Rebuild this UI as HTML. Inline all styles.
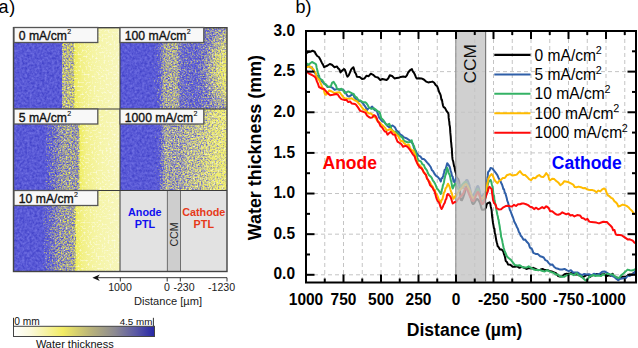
<!DOCTYPE html><html><head><meta charset="utf-8"><style>html,body{margin:0;padding:0;background:#fff;width:638px;height:348px;overflow:hidden}svg{display:block}text{font-family:"Liberation Sans",sans-serif}</style></head><body>
<svg width="638" height="348" viewBox="0 0 638 348">
<defs>
<linearGradient id="p0" gradientUnits="userSpaceOnUse" x1="0" y1="0" x2="638" y2="0"><stop offset="0.0219" stop-color="#ffffff"/><stop offset="0.0956" stop-color="#ffffff"/><stop offset="0.0972" stop-color="#797979"/><stop offset="0.1066" stop-color="#767676"/><stop offset="0.1165" stop-color="#747474"/><stop offset="0.1180" stop-color="#000000"/><stop offset="0.1881" stop-color="#000000"/></linearGradient>
<linearGradient id="p5" gradientUnits="userSpaceOnUse" x1="0" y1="0" x2="638" y2="0"><stop offset="0.0219" stop-color="#ffffff"/><stop offset="0.0627" stop-color="#ffffff"/><stop offset="0.0721" stop-color="#a4a4a4"/><stop offset="0.0815" stop-color="#9a9a9a"/><stop offset="0.0893" stop-color="#8f8f8f"/><stop offset="0.0972" stop-color="#848484"/><stop offset="0.1097" stop-color="#808080"/><stop offset="0.1144" stop-color="#838383"/><stop offset="0.1223" stop-color="#868686"/><stop offset="0.1251" stop-color="#626262"/><stop offset="0.1270" stop-color="#000000"/><stop offset="0.1881" stop-color="#000000"/></linearGradient>
<linearGradient id="p10" gradientUnits="userSpaceOnUse" x1="0" y1="0" x2="638" y2="0"><stop offset="0.0219" stop-color="#ffffff"/><stop offset="0.0596" stop-color="#ffffff"/><stop offset="0.0690" stop-color="#a4a4a4"/><stop offset="0.0784" stop-color="#9a9a9a"/><stop offset="0.0862" stop-color="#8f8f8f"/><stop offset="0.0940" stop-color="#858585"/><stop offset="0.1160" stop-color="#808080"/><stop offset="0.1191" stop-color="#626262"/><stop offset="0.1215" stop-color="#000000"/><stop offset="0.1881" stop-color="#000000"/></linearGradient>
<linearGradient id="p100" gradientUnits="userSpaceOnUse" x1="0" y1="0" x2="638" y2="0"><stop offset="0.1881" stop-color="#ffffff"/><stop offset="0.2429" stop-color="#afafaf"/><stop offset="0.2508" stop-color="#9c9c9c"/><stop offset="0.2571" stop-color="#808080"/><stop offset="0.2774" stop-color="#7c7c7c"/><stop offset="0.2837" stop-color="#979797"/><stop offset="0.3088" stop-color="#9b9b9b"/><stop offset="0.3229" stop-color="#8f8f8f"/><stop offset="0.3386" stop-color="#858585"/><stop offset="0.3558" stop-color="#808080"/></linearGradient>
<linearGradient id="p1000" gradientUnits="userSpaceOnUse" x1="0" y1="0" x2="638" y2="0"><stop offset="0.1881" stop-color="#ffffff"/><stop offset="0.2476" stop-color="#afafaf"/><stop offset="0.2539" stop-color="#919191"/><stop offset="0.2602" stop-color="#7c7c7c"/><stop offset="0.2665" stop-color="#818181"/><stop offset="0.2853" stop-color="#818181"/><stop offset="0.2915" stop-color="#787878"/><stop offset="0.3135" stop-color="#747474"/><stop offset="0.3292" stop-color="#6a6a6a"/><stop offset="0.3417" stop-color="#646464"/><stop offset="0.3558" stop-color="#5f5f5f"/></linearGradient>
<linearGradient id="y0" gradientUnits="userSpaceOnUse" x1="0" y1="0" x2="638" y2="0"><stop offset="0.0219" stop-color="#ecea50"/><stop offset="0.1160" stop-color="#ecea50"/><stop offset="0.1183" stop-color="#efed60"/><stop offset="0.1285" stop-color="#f2f088"/><stop offset="0.1489" stop-color="#f5f4a4"/><stop offset="0.1881" stop-color="#f7f6bc"/></linearGradient>
<linearGradient id="y5" gradientUnits="userSpaceOnUse" x1="0" y1="0" x2="638" y2="0"><stop offset="0.0219" stop-color="#ecea50"/><stop offset="0.1238" stop-color="#ecea50"/><stop offset="0.1254" stop-color="#efed60"/><stop offset="0.1348" stop-color="#f2f088"/><stop offset="0.1552" stop-color="#f5f4a4"/><stop offset="0.1881" stop-color="#f7f6bc"/></linearGradient>
<linearGradient id="y10" gradientUnits="userSpaceOnUse" x1="0" y1="0" x2="638" y2="0"><stop offset="0.0219" stop-color="#ecea50"/><stop offset="0.1183" stop-color="#ecea50"/><stop offset="0.1199" stop-color="#efed60"/><stop offset="0.1301" stop-color="#f2f088"/><stop offset="0.1505" stop-color="#f5f4a4"/><stop offset="0.1881" stop-color="#f7f6bc"/></linearGradient>
<linearGradient id="y100" gradientUnits="userSpaceOnUse" x1="0" y1="0" x2="638" y2="0"><stop offset="0.1881" stop-color="#ecea58"/><stop offset="0.3135" stop-color="#ecea60"/><stop offset="0.3558" stop-color="#eeec68"/></linearGradient>
<linearGradient id="y1000" gradientUnits="userSpaceOnUse" x1="0" y1="0" x2="638" y2="0"><stop offset="0.1881" stop-color="#ecea58"/><stop offset="0.3135" stop-color="#eeec70"/><stop offset="0.3558" stop-color="#f0ee70"/></linearGradient>
<radialGradient id="blob100" gradientUnits="userSpaceOnUse" cx="232" cy="70" r="34" gradientTransform="translate(232 70) scale(0.9 1.2) translate(-232 -70)"><stop offset="0" stop-color="#000" stop-opacity="0.4"/><stop offset="0.5" stop-color="#000" stop-opacity="0.18"/><stop offset="1" stop-color="#000" stop-opacity="0"/></radialGradient>
<filter id="spk" x="0" y="0" width="1" height="1" color-interpolation-filters="sRGB"><feTurbulence type="fractalNoise" baseFrequency="0.65" numOctaves="2" seed="5" result="noise"/><feColorMatrix in="noise" type="matrix" values="1 0 0 0 0  1 0 0 0 0  1 0 0 0 0  0 0 0 0 1" result="nz"/><feComposite in="SourceGraphic" in2="nz" operator="arithmetic" k1="0" k2="1" k3="0.5" k4="-0.25" result="sum"/><feColorMatrix in="sum" type="matrix" values="0 0 0 0 0  0 0 0 0 0  0 0 0 0 0  1 0 0 0 0"/><feComponentTransfer result="mask"><feFuncA type="linear" slope="4" intercept="-1.5"/></feComponentTransfer><feTurbulence type="fractalNoise" baseFrequency="0.4" numOctaves="2" seed="9" result="n2"/><feColorMatrix in="n2" type="matrix" values="0.28 0 0 0 0.21  0.28 0 0 0 0.21  0.16 0 0 0 0.76  0 0 0 0 1" result="col"/><feComposite in="col" in2="mask" operator="in"/><feGaussianBlur stdDeviation="0.4"/></filter>
<filter id="tex" x="0" y="0" width="1" height="1" color-interpolation-filters="sRGB"><feTurbulence type="fractalNoise" baseFrequency="0.5" numOctaves="2" seed="11"/><feColorMatrix type="matrix" values="0 0 0 0 1  0 0 0 0 1  0 0 0 0 0.97  2.2 0 0 0 -1.1"/></filter>
<linearGradient id="cbar" x1="0" y1="0" x2="1" y2="0"><stop offset="0" stop-color="#ffffff"/><stop offset="0.12" stop-color="#fbf9dc"/><stop offset="0.35" stop-color="#f2ec64"/><stop offset="0.55" stop-color="#b8b27a"/><stop offset="0.72" stop-color="#8c8a92"/><stop offset="0.87" stop-color="#5a58a4"/><stop offset="1" stop-color="#2626a6"/></linearGradient>
<clipPath id="plotclip"><rect x="306" y="31" width="330" height="251.5"/></clipPath>
<clipPath id="ccmclip"><rect x="455.8" y="31" width="30" height="251.5"/></clipPath>
<clipPath id="noccm"><path d="M306,31 H455.8 V282.5 H306 Z M485.8,31 H636 V282.5 H485.8 Z"/></clipPath>
</defs>
<text x="-1.5" y="12.8" font-size="18" fill="#000">a<tspan dx="0.8">)</tspan></text>
<rect x="14" y="27.5" width="106" height="81.5" fill="url(#y0)"/>
<rect x="14" y="27.5" width="106" height="81.5" fill="#fff" filter="url(#tex)"/>
<rect x="14" y="27.5" width="106" height="81.5" fill="url(#p0)" filter="url(#spk)"/>
<rect x="14" y="109" width="106" height="81.5" fill="url(#y5)"/>
<rect x="14" y="109" width="106" height="81.5" fill="#fff" filter="url(#tex)"/>
<rect x="14" y="109" width="106" height="81.5" fill="url(#p5)" filter="url(#spk)"/>
<rect x="14" y="190.5" width="106" height="81.0" fill="url(#y10)"/>
<rect x="14" y="190.5" width="106" height="81.0" fill="#fff" filter="url(#tex)"/>
<rect x="14" y="190.5" width="106" height="81.0" fill="url(#p10)" filter="url(#spk)"/>
<rect x="120" y="27.5" width="107" height="81.5" fill="url(#y100)"/>
<rect x="120" y="27.5" width="107" height="81.5" fill="#fff" filter="url(#tex)"/>
<g filter="url(#spk)"><rect x="120" y="27.5" width="107" height="81.5" fill="url(#p100)"/><rect x="120" y="27.5" width="107" height="81.5" fill="url(#blob100)"/></g>
<rect x="120" y="109" width="107" height="81.5" fill="url(#y1000)"/>
<rect x="120" y="109" width="107" height="81.5" fill="#fff" filter="url(#tex)"/>
<rect x="120" y="109" width="107" height="81.5" fill="url(#p1000)" filter="url(#spk)"/>
<rect x="120" y="190.5" width="107" height="81" fill="#e2e2e2"/>
<rect x="167.3" y="190.5" width="13.2" height="81" fill="#cecece" stroke="#555" stroke-width="0.8"/>
<g stroke="#3a3a3a" stroke-width="1">
<line x1="13.5" y1="109" x2="227" y2="109"/><line x1="13.5" y1="190.5" x2="227" y2="190.5"/>
<line x1="120" y1="27.5" x2="120" y2="271.5"/>
</g>
<rect x="13.5" y="27.7" width="213.5" height="243.8" fill="none" stroke="#444" stroke-width="1.4"/>
<rect x="14" y="27.5" width="83.8" height="15" fill="#f8f8f8" stroke="#555" stroke-width="1.3"/>
<text x="18.8" y="40.0" font-size="12.2" fill="#111" stroke="#111" stroke-width="0.35">0 mA/cm<tspan font-size="7" dy="-5.9" dx="0.3" stroke-width="0.15">2</tspan></text>
<rect x="14" y="109" width="83.8" height="15" fill="#f8f8f8" stroke="#555" stroke-width="1.3"/>
<text x="18.8" y="121.5" font-size="12.2" fill="#111" stroke="#111" stroke-width="0.35">5 mA/cm<tspan font-size="7" dy="-5.9" dx="0.3" stroke-width="0.15">2</tspan></text>
<rect x="14" y="190.5" width="83.8" height="15" fill="#f8f8f8" stroke="#555" stroke-width="1.3"/>
<text x="18.8" y="203.0" font-size="12.2" fill="#111" stroke="#111" stroke-width="0.35">10 mA/cm<tspan font-size="7" dy="-5.9" dx="0.3" stroke-width="0.15">2</tspan></text>
<rect x="120" y="27.5" width="83.8" height="15" fill="#f8f8f8" stroke="#555" stroke-width="1.3"/>
<text x="124.8" y="40.0" font-size="12.2" fill="#111" stroke="#111" stroke-width="0.35">100 mA/cm<tspan font-size="7" dy="-5.9" dx="0.3" stroke-width="0.15">2</tspan></text>
<rect x="120" y="109" width="83.8" height="15" fill="#f8f8f8" stroke="#555" stroke-width="1.3"/>
<text x="124.8" y="121.5" font-size="12.2" fill="#111" stroke="#111" stroke-width="0.35">1000 mA/cm<tspan font-size="7" dy="-5.9" dx="0.3" stroke-width="0.15">2</tspan></text>
<g font-size="10.8" font-weight="bold" text-anchor="middle">
<text x="144.8" y="216" fill="#1010f0">Anode</text><text x="145" y="227.7" fill="#1010f0">PTL</text>
<text x="203.8" y="216" fill="#e63a1a">Cathode</text><text x="203.8" y="227.7" fill="#e63a1a">PTL</text>
</g>
<text transform="translate(177.6,234.5) rotate(-90)" font-size="10.6" fill="#222" text-anchor="middle">CCM</text>
<line x1="97" y1="277.7" x2="227" y2="277.7" stroke="#333" stroke-width="1"/>
<path d="M92.4,277.7 L99.8,274.4 L97.6,277.7 L99.8,281 Z" fill="#111"/>
<line x1="120.3" y1="277.7" x2="120.3" y2="281.5" stroke="#333" stroke-width="1"/>
<line x1="167.2" y1="277.7" x2="167.2" y2="281.5" stroke="#333" stroke-width="1"/>
<line x1="180.3" y1="277.7" x2="180.3" y2="281.5" stroke="#333" stroke-width="1"/>
<line x1="227" y1="277.7" x2="227" y2="281.5" stroke="#333" stroke-width="1"/>
<g font-size="10.6" fill="#1a1a1a" text-anchor="middle">
<text x="120" y="291.4">1000</text><text x="167" y="291.4">0</text><text x="184" y="291.4">-230</text><text x="221.6" y="291.4">-1230</text>
<text x="168" y="305.3" font-size="11.1">Distance [µm]</text>
</g>
<rect x="13.5" y="326.3" width="141" height="10.2" fill="url(#cbar)" stroke="#444" stroke-width="1"/>
<line x1="13.5" y1="317.8" x2="13.5" y2="326.3" stroke="#333" stroke-width="1"/>
<line x1="153.4" y1="317.8" x2="153.4" y2="326.3" stroke="#333" stroke-width="1"/>
<text x="14.3" y="324.8" font-size="10.2" fill="#111">0 mm</text>
<text x="152.3" y="324.8" font-size="9.8" fill="#111" text-anchor="end">4.5 mm</text>
<text x="74.8" y="347.7" font-size="11" fill="#111" text-anchor="middle">Water thickness</text>
<text x="295.5" y="12.8" font-size="18" fill="#000">b)</text>
<g stroke="#c4c4c4" stroke-width="1" stroke-dasharray="4,3"><line x1="324.75" y1="32" x2="324.75" y2="281.5"/><line x1="343.50" y1="32" x2="343.50" y2="281.5"/><line x1="362.25" y1="32" x2="362.25" y2="281.5"/><line x1="381.00" y1="32" x2="381.00" y2="281.5"/><line x1="399.75" y1="32" x2="399.75" y2="281.5"/><line x1="418.50" y1="32" x2="418.50" y2="281.5"/><line x1="437.25" y1="32" x2="437.25" y2="281.5"/><line x1="456.00" y1="32" x2="456.00" y2="281.5"/><line x1="474.75" y1="32" x2="474.75" y2="281.5"/><line x1="493.50" y1="32" x2="493.50" y2="281.5"/><line x1="512.25" y1="32" x2="512.25" y2="281.5"/><line x1="531.00" y1="32" x2="531.00" y2="281.5"/><line x1="549.75" y1="32" x2="549.75" y2="281.5"/><line x1="568.50" y1="32" x2="568.50" y2="281.5"/><line x1="587.25" y1="32" x2="587.25" y2="281.5"/><line x1="606.00" y1="32" x2="606.00" y2="281.5"/><line x1="624.75" y1="32" x2="624.75" y2="281.5"/><line x1="307" y1="274.80" x2="635" y2="274.80"/><line x1="307" y1="234.17" x2="635" y2="234.17"/><line x1="307" y1="193.53" x2="635" y2="193.53"/><line x1="307" y1="152.90" x2="635" y2="152.90"/><line x1="307" y1="112.26" x2="635" y2="112.26"/><line x1="307" y1="71.63" x2="635" y2="71.63"/></g>
<g clip-path="url(#ccmclip)" fill="none" stroke-width="2.1" stroke-linejoin="round">
<path d="M452.7,160.0 L453.0,161.1 L453.3,162.7 L453.7,164.5 L454.2,166.4 L454.6,168.3 L455.0,170.0 L455.4,171.8 L455.8,173.6 L456.2,175.3 L456.6,176.8 L457.0,178.0 L458.0,178.8 L459.0,181.0 L459.2,182.1 L459.3,183.5 L459.5,185.2 L459.6,187.0 L459.8,189.0 L459.9,191.0 L460.1,193.0 L460.3,194.9 L460.4,196.6 L460.6,198.0 L460.8,199.2 L461.0,200.0 L461.9,200.3 L463.0,197.9 L464.0,195.0 L464.5,193.5 L465.0,191.6 L465.5,189.6 L466.0,187.8 L466.5,186.5 L467.0,186.0 L467.5,186.5 L468.0,187.7 L468.5,189.4 L469.0,191.3 L469.5,193.3 L470.0,195.0 L470.5,196.7 L471.0,198.5 L471.4,200.4 L471.9,202.0 L472.4,203.3 L473.0,204.0 L474.0,203.5 L475.0,201.8 L476.0,199.9 L477.0,199.0 L478.1,199.6 L479.1,201.1 L480.0,203.0 L480.5,204.6 L481.0,206.6 L481.5,208.4 L482.0,209.6 L483.6,209.8 L485.0,209.0 L486.0,207.5 L486.7,205.4 L487.3,203.4" stroke="#000000"/>
<path d="M454.3,182.2 L454.7,180.7 L455.3,178.7 L456.0,178.0 L456.5,178.7 L457.1,180.2 L457.7,182.0 L458.3,183.7 L459.0,185.0 L460.3,186.7 L461.7,188.0 L463.0,188.0 L463.7,186.9 L464.4,185.0 L465.1,182.9 L465.8,181.0 L466.4,180.0 L467.3,180.1 L468.1,181.6 L469.0,184.0 L469.4,185.2 L469.7,186.8 L470.1,188.6 L470.5,190.5 L470.9,192.3 L471.2,193.9 L471.6,195.2 L472.0,196.0 L473.0,195.9 L474.0,194.1 L475.0,192.0 L475.8,190.3 L476.5,188.1 L477.2,186.4 L478.0,186.0 L478.5,186.9 L479.0,188.6 L479.5,190.8 L480.0,193.0 L480.5,194.8 L481.0,196.0 L482.6,195.8 L484.0,194.0 L485.0,193.6 L486.0,191.0 L486.2,189.9 L486.4,188.5 L486.6,186.9 L486.8,185.1 L487.1,183.2 L487.3,181.2 L487.5,179.3 L487.7,177.4 L487.9,175.6 L488.0,174.1 L488.2,172.8 L488.3,171.8" stroke="#2f5fa8"/>
<path d="M455.0,183.7 L456.0,184.0 L456.6,185.4 L457.4,187.3 L458.2,189.1 L459.0,190.0 L460.0,189.1 L460.9,186.9 L462.0,185.0 L463.3,183.4 L464.7,182.1 L466.0,182.0 L466.7,182.9 L467.3,184.4 L467.8,186.2 L468.4,188.2 L469.0,190.0 L469.5,191.6 L470.0,193.4 L470.5,195.2 L471.0,196.9 L471.5,198.2 L472.0,199.0 L473.5,198.5 L475.0,196.0 L475.6,194.6 L476.2,192.6 L476.8,190.7 L477.4,189.3 L478.0,189.0 L478.4,189.7 L478.9,191.2 L479.3,193.0 L479.7,195.1 L480.1,197.1 L480.6,198.8 L481.0,200.0 L482.6,200.9 L484.0,200.0 L485.0,198.9 L486.0,196.0 L486.3,194.8 L486.5,193.3 L486.8,191.6 L487.1,189.8 L487.4,187.9 L487.7,186.1 L487.9,184.5 L488.1,183.2 L488.3,182.2" stroke="#34b265"/>
<path d="M455.0,196.4 L456.0,196.0 L456.9,194.6 L457.9,192.7 L459.0,191.0 L460.4,189.4 L462.0,188.0 L463.3,186.3 L464.6,184.6 L466.0,184.0 L466.8,184.7 L467.6,186.0 L468.5,187.7 L469.3,189.4 L470.0,191.0 L470.6,192.6 L471.2,194.3 L471.7,196.0 L472.3,197.3 L473.0,198.0 L474.1,197.6 L475.4,196.1 L476.8,194.6 L478.0,194.0 L479.1,194.9 L480.1,196.8 L481.0,198.5 L482.0,199.0 L482.8,198.3 L483.7,196.9 L484.5,195.1 L485.3,193.1 L486.0,191.0 L486.4,189.6 L486.7,187.9 L487.1,186.2 L487.4,184.3 L487.7,182.6 L487.9,181.0 L488.1,179.7 L488.3,178.7" stroke="#ffbb00"/>
<path d="M455.0,201.9 L456.0,202.0 L456.8,201.0 L457.9,199.5 L459.0,198.0 L460.3,196.7 L461.7,195.5 L463.0,194.0 L463.8,192.3 L464.5,190.1 L465.2,188.4 L466.0,188.0 L466.6,188.7 L467.3,189.9 L468.0,191.5 L468.7,193.4 L469.4,195.2 L470.1,196.8 L470.7,198.0 L472.2,200.7 L473.6,201.0 L474.3,200.0 L475.0,198.1 L475.7,195.9 L476.5,193.9 L477.3,192.4 L478.0,192.0 L478.5,192.6 L479.1,193.9 L479.6,195.7 L480.1,197.7 L480.6,199.8 L481.1,201.7 L481.6,203.1 L482.0,204.0 L483.1,203.7 L484.2,201.5 L485.0,199.5 L485.5,198.0 L486.0,196.0 L486.5,194.7 L487.1,193.0 L487.8,191.2 L488.4,189.4 L489.0,187.9 L489.4,186.8" stroke="#ff0a0a"/>
</g>
<rect x="455.6" y="32" width="30.2" height="249.5" fill="#c4c4c4" fill-opacity="0.8"/>
<line x1="455.8" y1="32" x2="455.8" y2="281.5" stroke="#8a8a8a" stroke-width="1"/>
<line x1="485.6" y1="32" x2="485.6" y2="281.5" stroke="#7a7a7a" stroke-width="1.2"/>
<g clip-path="url(#noccm)" fill="none" stroke-width="2" stroke-linejoin="round">
<path d="M306.0,53.4 L308.1,52.1 L310.3,51.7 L312.5,50.8 L314.7,51.7 L315.9,54.2 L317.2,56.0 L318.9,57.0 L320.7,60.3 L321.8,62.7 L323.0,64.6 L324.1,67.2 L327.6,65.5 L329.8,64.0 L331.9,64.7 L334.5,67.2 L337.0,66.4 L338.2,68.4 L339.3,69.2 L340.5,72.4 L342.2,70.5 L344.0,69.0 L344.9,69.8 L345.7,71.8 L346.5,74.6 L347.4,76.7 L348.7,75.4 L350.0,72.4 L351.1,69.7 L352.3,68.2 L353.4,67.2 L354.1,69.4 L354.8,72.2 L355.5,73.1 L356.2,74.5 L356.9,76.7 L359.7,76.9 L362.1,78.9 L364.5,78.4 L366.6,75.7 L368.7,76.2 L370.8,73.7 L373.1,74.8 L375.5,76.9 L377.9,77.5 L380.3,80.0 L382.4,79.0 L384.5,79.5 L386.6,80.0 L388.2,78.5 L389.8,75.3 L392.1,76.0 L394.5,78.4 L396.6,78.1 L398.7,77.8 L400.8,76.9 L403.2,76.6 L405.6,76.9 L406.9,75.4 L408.1,72.6 L409.4,71.0 L410.6,69.8 L411.9,69.0 L412.8,71.3 L413.8,72.6 L414.7,74.2 L415.7,76.7 L416.6,78.4 L419.0,78.3 L421.4,78.4 L423.8,79.5 L426.1,81.6 L428.2,82.4 L430.3,82.1 L432.4,81.6 L434.0,82.5 L435.6,84.9 L437.2,86.3 L438.0,88.3 L438.8,91.2 L439.5,92.8 L440.3,94.2 L440.8,95.8 L441.4,99.7 L441.9,99.6 L442.4,102.5 L443.0,105.5 L443.5,106.9 L445.1,108.1 L446.6,111.1 L448.2,113.2 L448.5,114.1 L448.7,117.9 L449.0,120.2 L449.3,121.9 L449.5,124.8 L449.8,125.9 L450.0,127.5 L450.2,130.6 L450.3,132.4 L450.5,134.5 L450.7,136.3 L450.9,139.4 L451.0,141.8 L451.2,142.6 L451.4,144.8 L451.6,147.4 L451.8,148.0 L452.0,151.8 L452.1,153.9 L452.3,156.9 L452.5,158.7 L452.7,160.0 L453.2,161.4 L453.6,163.7 L454.1,166.4 L454.5,166.8 L455.0,170.0 L455.5,171.9 L456.0,173.1 L456.5,175.0 L457.0,178.0 L459.0,181.0 L459.2,182.0 L459.4,185.9 L459.7,186.4 L459.9,188.8 L460.1,191.3 L460.3,194.6 L460.6,194.7 L460.8,197.8 L461.0,200.0 L462.5,197.6 L464.0,195.0 L464.8,193.7 L465.5,191.3 L466.2,189.2 L467.0,186.0 L467.8,187.7 L468.5,190.3 L469.2,192.4 L470.0,195.0 L470.8,198.2 L471.5,200.7 L472.2,200.8 L473.0,204.0 L474.3,201.5 L475.7,200.0 L477.0,199.0 L478.5,200.3 L480.0,203.0 L480.7,205.2 L481.3,207.6 L482.0,209.6 L485.0,209.0 L486.0,207.5 L486.6,204.8 L487.3,203.4 L489.6,202.3 L490.2,203.3 L490.8,206.7 L491.4,209.2 L491.7,211.2 L491.9,214.0 L492.2,217.3 L492.5,218.9 L492.7,220.7 L493.0,223.0 L493.5,225.6 L493.9,228.1 L494.4,228.7 L494.8,233.2 L495.3,234.5 L495.8,237.5 L496.2,240.1 L496.7,242.2 L497.1,243.4 L497.6,246.0 L498.8,247.4 L500.0,249.4 L501.7,249.5 L503.4,251.7 L504.0,254.3 L504.5,255.2 L505.1,257.5 L505.7,260.9 L506.9,261.9 L508.0,264.4 L510.3,264.7 L512.6,266.7 L514.9,266.7 L517.2,266.3 L519.5,267.8 L521.8,266.9 L524.1,267.7 L526.4,269.0 L528.7,268.0 L531.0,268.6 L533.3,267.8 L535.6,269.0 L537.9,270.2 L540.2,269.8 L542.5,268.9 L544.8,270.1 L547.1,270.0 L549.4,270.9 L551.7,271.5 L554.0,272.4 L556.0,273.2 L558.0,276.0 L560.1,276.4 L562.3,276.2 L564.5,274.3 L566.6,273.8 L568.8,273.9 L570.9,273.1 L573.1,273.3 L575.2,274.5 L577.4,274.6 L579.5,275.0 L581.7,277.0 L583.9,276.7 L586.0,275.4 L588.2,274.7 L590.4,276.7 L592.5,275.2 L594.6,275.1 L596.8,273.9 L599.0,274.8 L601.1,274.5 L604.0,274.0 L606.9,276.0 L608.8,275.3 L610.7,275.8 L612.6,273.8 L614.0,276.2 L615.5,277.2 L616.9,277.5 L618.3,279.5 L620.2,278.2 L622.2,276.8 L624.1,276.7 L626.0,276.7 L627.9,275.3 L629.8,274.5 L631.9,274.5 L633.9,272.7 L636.0,272.4" stroke="#000000"/>
<path d="M306.0,65.5 L308.0,65.3 L310.0,67.4 L312.0,67.2 L313.0,70.2 L314.1,71.6 L315.1,73.2 L316.2,75.0 L317.2,75.9 L318.9,78.5 L320.7,79.2 L322.4,81.9 L324.1,83.6 L325.9,84.9 L327.6,87.0 L329.9,86.7 L332.2,87.6 L334.5,89.7 L337.1,89.1 L339.7,89.7 L341.9,89.5 L344.0,90.5 L345.7,93.0 L347.4,95.8 L349.1,96.6 L351.2,95.2 L353.4,94.0 L354.2,97.1 L355.0,97.9 L356.7,100.2 L358.4,101.2 L360.2,100.8 L361.9,102.2 L363.2,103.4 L364.4,105.4 L365.7,107.3 L367.0,110.0 L368.7,108.1 L370.5,108.1 L372.2,106.6 L373.7,109.1 L375.1,110.4 L376.6,110.9 L377.5,112.8 L378.3,115.1 L379.1,117.5 L380.0,118.6 L382.3,121.5 L384.0,121.6 L385.7,123.8 L387.4,125.9 L389.2,127.2 L392.6,125.5 L394.9,127.2 L396.6,130.6 L398.4,131.8 L400.1,134.3 L401.8,135.3 L404.1,137.4 L406.4,138.2 L408.1,139.3 L409.9,140.5 L412.3,143.0 L413.1,144.1 L413.8,147.6 L414.6,148.8 L415.8,150.7 L416.9,153.4 L418.6,155.6 L420.3,156.3 L422.1,158.9 L423.8,159.1 L425.5,160.6 L427.2,162.6 L428.9,164.5 L430.7,167.0 L431.9,170.2 L433.0,171.0 L434.6,174.0 L436.1,175.8 L437.7,176.8 L439.2,178.6 L440.8,181.4 L441.6,178.3 L442.4,178.1 L443.2,175.7 L444.0,172.7 L444.6,169.9 L445.3,169.7 L445.9,168.2 L446.6,165.5 L447.2,163.2 L449.5,166.3 L450.1,168.3 L450.7,171.2 L451.3,172.5 L451.9,175.8 L452.7,176.7 L453.5,181.3 L454.3,182.2 L455.1,180.5 L456.0,178.0 L457.0,180.4 L458.0,183.8 L459.0,185.0 L461.0,186.3 L463.0,188.0 L463.9,187.0 L464.7,184.8 L465.5,181.2 L466.4,180.0 L467.7,181.4 L469.0,184.0 L469.5,185.5 L470.0,187.3 L470.5,190.2 L471.0,191.4 L471.5,193.8 L472.0,196.0 L473.5,193.0 L475.0,192.0 L476.0,191.1 L477.0,187.6 L478.0,186.0 L478.6,187.9 L479.2,190.2 L479.8,193.1 L480.4,193.8 L481.0,196.0 L484.0,194.0 L486.0,191.0 L486.3,190.0 L486.5,186.7 L486.8,184.7 L487.0,182.5 L487.3,179.1 L487.5,178.0 L487.8,175.2 L488.0,172.6 L488.3,171.8 L489.5,170.6 L490.6,167.9 L492.3,168.4 L494.0,170.7 L495.8,172.9 L497.5,175.3 L498.4,177.7 L499.3,179.1 L500.2,180.4 L501.1,182.7 L502.0,184.5 L502.7,186.6 L503.3,189.1 L504.0,189.3 L504.7,192.4 L505.4,193.5 L506.0,195.5 L506.7,198.0 L507.3,200.9 L508.0,202.4 L508.6,204.7 L509.2,207.3 L509.9,209.9 L510.5,211.0 L511.2,212.9 L512.0,215.3 L512.8,217.0 L513.5,219.0 L514.2,221.5 L515.0,223.0 L516.0,224.8 L516.9,227.0 L517.9,228.9 L518.9,232.0 L519.9,233.4 L520.8,235.8 L521.8,236.8 L523.5,239.7 L525.2,239.6 L527.0,242.1 L528.7,243.7 L529.6,246.7 L530.5,248.3 L531.5,248.3 L532.4,250.1 L533.3,252.9 L535.6,253.9 L537.9,254.1 L540.2,256.3 L541.9,256.8 L543.7,257.5 L545.4,260.2 L547.1,260.9 L548.8,263.1 L550.5,264.8 L552.3,264.4 L554.0,266.7 L556.0,268.3 L558.0,268.8 L560.1,269.6 L562.3,269.5 L564.5,268.9 L566.6,270.2 L568.8,271.2 L570.9,270.2 L573.0,272.5 L575.2,272.4 L577.4,272.4 L579.6,273.8 L582.0,275.2 L584.3,274.0 L586.7,274.5 L589.1,274.2 L591.5,275.3 L593.9,273.8 L596.8,274.7 L599.7,273.8 L602.2,271.8 L604.7,271.6 L607.2,272.9 L609.7,274.5 L611.6,275.7 L613.6,276.5 L615.5,278.1 L618.3,280.3 L620.2,278.8 L622.2,278.4 L624.1,278.1 L626.0,278.0 L627.9,275.5 L629.8,276.0 L632.0,274.7 L634.1,273.1 L636.0,270.0" stroke="#2f5fa8"/>
<path d="M306.0,63.0 L308.6,64.7 L310.3,63.2 L312.0,62.0 L315.5,63.8 L316.1,64.5 L316.6,67.4 L317.2,69.8 L317.9,72.5 L318.5,74.6 L319.1,75.8 L319.8,79.3 L322.4,80.2 L324.1,83.6 L325.9,84.5 L327.6,86.5 L329.3,87.0 L330.7,86.5 L332.2,82.6 L333.6,81.9 L334.7,83.6 L335.9,85.3 L337.0,88.8 L339.2,89.5 L341.4,88.8 L343.1,90.4 L344.8,93.1 L348.3,91.4 L351.7,93.1 L353.4,93.9 L355.2,96.6 L356.9,97.7 L358.5,100.3 L360.2,100.5 L362.8,102.2 L365.3,102.2 L366.5,103.3 L367.6,104.8 L368.8,107.4 L371.4,108.9 L374.0,108.3 L375.7,109.6 L377.4,111.1 L379.1,111.7 L379.8,112.7 L380.4,114.7 L381.1,118.0 L383.4,120.3 L385.1,123.1 L386.9,125.0 L389.2,123.8 L390.0,125.5 L390.7,126.5 L391.5,129.5 L393.8,131.8 L396.1,131.8 L397.6,133.7 L399.2,135.7 L400.7,136.4 L402.4,137.6 L404.1,141.0 L407.6,142.2 L410.0,141.9 L411.7,140.2 L412.5,143.7 L413.4,145.3 L414.2,146.5 L414.9,150.8 L415.7,152.2 L416.3,154.1 L416.9,155.8 L417.4,158.4 L418.0,160.3 L420.9,161.4 L422.4,164.3 L423.8,164.9 L425.0,168.0 L426.0,169.1 L427.0,170.5 L428.0,173.3 L429.0,175.0 L430.3,176.2 L431.6,177.7 L432.9,180.6 L433.9,181.7 L434.9,183.4 L435.9,185.7 L436.9,188.5 L438.2,189.8 L439.5,191.7 L440.8,194.0 L441.3,192.7 L441.9,189.5 L442.4,188.1 L442.9,185.3 L443.5,183.8 L444.0,182.2 L444.5,178.9 L444.9,177.5 L445.4,174.8 L445.8,174.6 L446.3,172.1 L446.7,169.1 L447.2,167.9 L448.0,170.2 L448.8,173.8 L449.5,174.0 L450.3,177.4 L450.8,180.4 L451.3,181.7 L451.7,184.0 L452.2,187.1 L452.7,188.5 L453.9,185.8 L455.0,183.7 L456.0,184.0 L457.0,186.0 L458.0,188.5 L459.0,190.0 L460.5,188.8 L462.0,185.0 L464.0,183.1 L466.0,182.0 L466.8,184.9 L467.5,186.5 L468.2,188.4 L469.0,190.0 L469.8,192.0 L470.5,194.1 L471.2,195.6 L472.0,199.0 L473.5,196.5 L475.0,196.0 L476.0,192.6 L477.0,192.0 L478.0,189.0 L478.6,190.6 L479.2,192.5 L479.8,194.5 L480.4,198.7 L481.0,200.0 L484.0,200.0 L485.0,199.0 L486.0,196.0 L486.4,194.1 L486.8,190.8 L487.1,188.4 L487.5,186.3 L487.9,184.4 L488.3,182.2 L490.6,179.9 L491.2,181.3 L491.8,184.3 L492.3,186.1 L492.9,189.0 L493.2,192.2 L493.5,194.2 L493.8,195.1 L494.1,196.3 L494.4,200.2 L494.7,200.5 L495.0,203.0 L495.4,204.6 L495.8,205.7 L496.2,208.7 L496.6,210.9 L497.0,213.0 L497.4,215.0 L497.8,216.2 L498.2,219.0 L498.6,219.7 L499.0,223.0 L499.4,224.7 L499.7,226.5 L500.1,229.6 L500.4,231.0 L500.8,233.3 L501.1,236.8 L501.6,238.3 L502.1,240.0 L502.6,242.9 L503.0,244.8 L503.5,247.3 L504.0,249.0 L504.5,250.6 L505.7,253.5 L506.8,256.2 L508.0,257.5 L509.5,258.7 L511.1,260.1 L512.6,262.1 L514.9,265.1 L517.2,265.5 L519.5,265.2 L521.8,266.7 L524.1,267.6 L526.4,267.6 L528.7,266.3 L531.0,267.8 L533.3,269.2 L535.6,270.0 L537.9,269.9 L540.2,270.1 L542.5,271.0 L544.8,271.5 L547.1,270.1 L549.4,271.3 L551.5,272.2 L553.7,272.9 L555.9,274.6 L558.0,274.5 L560.1,276.4 L562.3,276.7 L564.5,276.8 L566.6,275.2 L568.8,274.7 L570.9,273.8 L573.8,275.2 L576.7,273.1 L578.9,275.6 L581.0,276.0 L582.9,278.1 L584.8,279.8 L586.7,281.0 L588.1,278.6 L589.6,276.4 L591.0,276.0 L593.2,275.0 L595.4,276.0 L598.2,275.6 L601.1,276.0 L603.0,274.2 L605.0,275.4 L606.9,273.8 L609.8,274.3 L612.6,274.5 L614.5,276.0 L616.4,277.2 L618.3,278.1 L619.8,277.1 L621.2,275.2 L623.4,273.4 L625.5,271.6 L627.6,269.6 L629.8,270.2 L631.9,270.5 L633.9,269.9 L636.0,268.8" stroke="#34b265"/>
<path d="M306.0,67.2 L308.1,66.8 L310.3,66.4 L312.1,68.2 L313.8,69.8 L314.6,72.2 L315.5,72.6 L316.4,76.3 L317.2,77.6 L318.3,78.9 L319.4,80.3 L320.5,82.8 L321.6,85.3 L322.5,87.8 L323.3,88.3 L324.2,91.6 L325.0,94.1 L325.9,94.8 L327.6,92.6 L329.3,90.5 L331.9,91.5 L334.5,93.1 L337.1,92.6 L339.7,92.2 L341.4,94.7 L343.1,97.0 L344.8,98.3 L347.1,98.6 L349.4,98.7 L351.7,98.3 L355.0,100.5 L356.7,101.1 L358.4,103.0 L360.2,105.0 L361.9,107.4 L363.6,109.5 L365.4,109.9 L367.1,112.1 L368.8,113.4 L370.5,113.3 L372.3,114.6 L374.0,116.9 L375.5,117.7 L377.0,120.2 L378.5,121.7 L380.0,122.6 L381.7,124.8 L383.4,126.1 L385.1,127.9 L386.9,130.7 L390.3,129.0 L391.8,130.4 L393.4,131.6 L394.9,133.0 L396.4,134.8 L398.0,135.8 L399.5,138.7 L401.0,141.3 L402.6,141.0 L404.1,143.3 L406.4,145.1 L408.7,144.5 L410.0,147.6 L411.5,150.7 L413.1,150.2 L414.6,153.4 L415.3,155.4 L416.0,158.4 L416.6,160.8 L417.3,161.5 L418.0,163.7 L419.5,165.0 L421.1,166.8 L422.6,169.5 L423.8,172.6 L425.0,173.4 L426.1,175.0 L427.1,178.4 L428.2,180.6 L429.8,181.8 L431.3,184.9 L432.9,186.9 L433.9,190.0 L434.8,189.7 L435.8,193.4 L436.7,194.5 L437.7,196.4 L438.7,199.5 L439.8,201.1 L440.8,202.7 L441.6,199.8 L442.4,199.3 L443.2,196.0 L444.0,192.6 L444.8,191.6 L445.6,188.3 L446.4,187.6 L447.2,185.5 L448.0,183.7 L448.8,185.2 L449.6,186.7 L450.3,189.2 L451.1,191.6 L451.9,193.5 L452.7,197.3 L453.5,198.8 L455.0,196.4 L456.0,196.0 L457.5,192.2 L459.0,191.0 L460.5,190.2 L462.0,188.0 L464.0,186.9 L466.0,184.0 L467.0,184.8 L468.0,188.6 L469.0,189.8 L470.0,191.0 L471.0,194.4 L472.0,195.1 L473.0,198.0 L474.7,196.3 L476.3,195.1 L478.0,194.0 L479.3,197.0 L480.7,197.6 L482.0,199.0 L483.0,196.6 L484.0,194.8 L485.0,192.4 L486.0,191.0 L486.4,187.8 L486.8,185.9 L487.1,185.7 L487.5,182.2 L487.9,181.9 L488.3,178.7 L490.0,175.7 L491.7,174.1 L492.9,175.8 L494.0,178.7 L495.2,181.0 L497.5,183.3 L499.2,180.8 L500.9,179.9 L502.8,178.0 L504.8,178.0 L506.7,175.3 L510.0,174.1 L512.5,175.6 L515.0,175.1 L516.7,174.6 L518.3,172.8 L520.0,171.1 L521.7,173.5 L523.4,174.9 L525.1,175.1 L527.1,176.9 L529.1,179.1 L531.1,180.2 L533.1,177.8 L535.2,178.3 L537.2,176.2 L539.2,175.1 L541.2,176.8 L543.2,177.1 L544.7,175.5 L546.2,173.1 L547.2,174.3 L548.2,175.5 L549.2,179.5 L550.2,180.2 L552.2,178.7 L554.3,179.1 L555.8,180.6 L557.3,181.7 L558.8,183.1 L560.3,185.2 L562.3,183.8 L564.3,181.2 L568.0,182.0 L570.4,183.2 L573.2,184.6 L574.8,187.1 L576.4,187.2 L578.6,186.6 L580.9,187.2 L582.9,188.2 L584.8,187.9 L586.8,189.2 L588.7,189.7 L590.6,190.1 L592.5,190.1 L594.5,190.8 L596.4,192.3 L598.4,190.6 L600.3,191.4 L602.2,189.4 L604.2,188.4 L605.5,189.6 L606.8,193.4 L608.1,195.5 L609.4,196.2 L611.1,197.8 L612.8,198.7 L614.5,201.4 L615.8,202.3 L617.1,203.7 L618.4,206.5 L620.6,205.7 L622.7,204.6 L624.9,205.3 L626.6,205.9 L628.4,207.2 L630.1,209.1 L632.1,211.0 L634.0,213.6 L636.0,214.3" stroke="#ffbb00"/>
<path d="M306.0,69.8 L307.3,72.2 L308.6,73.3 L312.0,75.0 L313.8,76.1 L315.5,77.6 L316.2,79.3 L316.9,81.4 L317.6,82.9 L318.3,84.7 L319.0,87.0 L322.4,88.8 L324.1,89.1 L325.9,91.1 L327.6,93.1 L330.2,95.2 L332.8,94.8 L336.2,94.0 L337.9,94.7 L339.7,97.4 L341.4,99.1 L344.0,99.9 L346.6,100.0 L348.3,102.1 L350.0,101.5 L351.7,103.4 L355.0,104.0 L356.3,105.1 L357.6,106.8 L358.9,108.9 L360.2,110.9 L362.8,111.6 L365.3,112.6 L367.0,115.5 L368.8,117.0 L370.5,117.8 L372.2,117.5 L374.0,115.2 L375.3,115.9 L376.6,117.8 L377.8,121.5 L379.1,122.9 L380.5,126.1 L382.0,127.2 L383.4,129.5 L384.8,131.5 L386.1,131.7 L387.5,134.7 L389.2,133.0 L390.9,131.8 L392.9,134.4 L394.9,134.7 L395.8,137.4 L396.6,139.4 L397.5,141.6 L398.4,142.2 L399.9,143.1 L401.5,144.3 L403.0,146.8 L405.3,145.9 L407.6,146.8 L410.0,149.9 L411.5,152.1 L413.1,154.6 L414.6,156.3 L415.5,159.6 L416.3,161.2 L417.1,163.1 L418.0,164.9 L419.8,167.3 L421.5,168.3 L422.7,170.1 L423.8,172.2 L425.0,174.0 L426.0,174.9 L427.0,178.8 L428.0,179.5 L429.0,182.2 L430.2,185.3 L431.4,186.5 L432.5,187.6 L433.7,190.1 L434.5,191.3 L435.3,193.9 L436.1,197.1 L436.9,199.4 L437.7,201.1 L438.7,202.1 L439.6,203.9 L440.6,207.1 L441.6,209.0 L442.7,207.1 L443.7,204.5 L444.8,202.7 L445.6,199.8 L446.4,198.6 L447.1,194.9 L447.9,194.0 L450.3,196.4 L451.1,198.3 L451.9,201.0 L452.7,203.5 L455.0,201.9 L456.0,202.0 L457.5,201.2 L459.0,198.0 L461.0,196.4 L463.0,194.0 L464.0,193.0 L465.0,189.9 L466.0,188.0 L466.9,189.3 L467.9,191.3 L468.8,195.2 L469.8,196.5 L470.7,198.0 L472.1,199.0 L473.6,201.0 L474.5,198.0 L475.4,197.4 L476.2,196.1 L477.1,193.6 L478.0,192.0 L478.7,193.4 L479.3,196.4 L480.0,199.1 L480.7,199.3 L481.3,200.8 L482.0,204.0 L483.5,201.3 L485.0,199.5 L486.0,196.0 L486.9,193.5 L487.7,191.9 L488.5,188.3 L489.4,186.8 L491.7,189.1 L492.0,192.1 L492.2,194.1 L492.5,195.7 L492.7,197.1 L493.0,200.0 L494.1,203.2 L495.2,204.0 L495.9,205.5 L496.5,208.0 L498.8,209.4 L501.1,209.2 L503.4,207.3 L505.7,206.1 L508.0,205.7 L510.0,206.3 L512.0,206.5 L514.0,204.8 L516.0,206.0 L518.0,204.3 L520.0,204.3 L522.0,203.5 L524.1,203.6 L526.1,204.3 L528.1,205.1 L530.1,206.7 L532.1,207.3 L534.1,209.1 L536.2,207.7 L538.2,209.3 L540.2,208.3 L542.2,207.1 L544.2,208.3 L546.2,206.3 L547.5,207.0 L548.9,208.5 L550.2,211.3 L552.2,211.2 L554.3,213.1 L556.3,214.4 L558.3,214.7 L560.3,214.0 L562.3,212.3 L564.3,213.3 L566.4,214.3 L568.4,213.4 L570.4,215.5 L572.4,215.0 L574.4,216.4 L577.2,215.1 L580.0,215.4 L581.8,217.9 L583.5,218.2 L585.5,219.8 L587.4,218.9 L589.3,221.6 L591.3,222.1 L593.9,222.2 L596.4,222.6 L599.0,223.4 L601.2,222.5 L603.3,221.7 L605.5,222.1 L607.1,222.1 L608.8,224.1 L610.4,225.5 L612.0,227.2 L613.2,230.3 L614.5,230.1 L615.7,234.3 L616.9,235.0 L619.7,235.0 L621.6,235.2 L623.6,236.6 L625.5,237.9 L627.6,239.4 L629.8,239.3 L632.7,240.7 L634.4,242.7 L636.0,243.0" stroke="#ff0a0a"/>
</g>
<text transform="translate(476,63.7) rotate(-90)" font-size="17.4" fill="#111" text-anchor="middle">CCM</text>
<rect x="306" y="31" width="330" height="251.5" fill="none" stroke="#000" stroke-width="2"/>
<g stroke="#000" stroke-width="2"><line x1="306.00" y1="282.5" x2="306.00" y2="274.5"/><line x1="306.00" y1="31" x2="306.00" y2="39"/><line x1="324.75" y1="282.5" x2="324.75" y2="278.5"/><line x1="324.75" y1="31" x2="324.75" y2="35"/><line x1="343.50" y1="282.5" x2="343.50" y2="274.5"/><line x1="343.50" y1="31" x2="343.50" y2="39"/><line x1="362.25" y1="282.5" x2="362.25" y2="278.5"/><line x1="362.25" y1="31" x2="362.25" y2="35"/><line x1="381.00" y1="282.5" x2="381.00" y2="274.5"/><line x1="381.00" y1="31" x2="381.00" y2="39"/><line x1="399.75" y1="282.5" x2="399.75" y2="278.5"/><line x1="399.75" y1="31" x2="399.75" y2="35"/><line x1="418.50" y1="282.5" x2="418.50" y2="274.5"/><line x1="418.50" y1="31" x2="418.50" y2="39"/><line x1="437.25" y1="282.5" x2="437.25" y2="278.5"/><line x1="437.25" y1="31" x2="437.25" y2="35"/><line x1="456.00" y1="282.5" x2="456.00" y2="274.5"/><line x1="456.00" y1="31" x2="456.00" y2="39"/><line x1="474.75" y1="282.5" x2="474.75" y2="278.5"/><line x1="474.75" y1="31" x2="474.75" y2="35"/><line x1="493.50" y1="282.5" x2="493.50" y2="274.5"/><line x1="493.50" y1="31" x2="493.50" y2="39"/><line x1="512.25" y1="282.5" x2="512.25" y2="278.5"/><line x1="512.25" y1="31" x2="512.25" y2="35"/><line x1="531.00" y1="282.5" x2="531.00" y2="274.5"/><line x1="531.00" y1="31" x2="531.00" y2="39"/><line x1="549.75" y1="282.5" x2="549.75" y2="278.5"/><line x1="549.75" y1="31" x2="549.75" y2="35"/><line x1="568.50" y1="282.5" x2="568.50" y2="274.5"/><line x1="568.50" y1="31" x2="568.50" y2="39"/><line x1="587.25" y1="282.5" x2="587.25" y2="278.5"/><line x1="587.25" y1="31" x2="587.25" y2="35"/><line x1="606.00" y1="282.5" x2="606.00" y2="274.5"/><line x1="606.00" y1="31" x2="606.00" y2="39"/><line x1="624.75" y1="282.5" x2="624.75" y2="278.5"/><line x1="624.75" y1="31" x2="624.75" y2="35"/><line x1="306" y1="274.80" x2="314.5" y2="274.80"/><line x1="636" y1="274.80" x2="627.5" y2="274.80"/><line x1="306" y1="254.48" x2="310" y2="254.48"/><line x1="636" y1="254.48" x2="632" y2="254.48"/><line x1="306" y1="234.17" x2="314.5" y2="234.17"/><line x1="636" y1="234.17" x2="627.5" y2="234.17"/><line x1="306" y1="213.85" x2="310" y2="213.85"/><line x1="636" y1="213.85" x2="632" y2="213.85"/><line x1="306" y1="193.53" x2="314.5" y2="193.53"/><line x1="636" y1="193.53" x2="627.5" y2="193.53"/><line x1="306" y1="173.21" x2="310" y2="173.21"/><line x1="636" y1="173.21" x2="632" y2="173.21"/><line x1="306" y1="152.90" x2="314.5" y2="152.90"/><line x1="636" y1="152.90" x2="627.5" y2="152.90"/><line x1="306" y1="132.58" x2="310" y2="132.58"/><line x1="636" y1="132.58" x2="632" y2="132.58"/><line x1="306" y1="112.26" x2="314.5" y2="112.26"/><line x1="636" y1="112.26" x2="627.5" y2="112.26"/><line x1="306" y1="91.94" x2="310" y2="91.94"/><line x1="636" y1="91.94" x2="632" y2="91.94"/><line x1="306" y1="71.63" x2="314.5" y2="71.63"/><line x1="636" y1="71.63" x2="627.5" y2="71.63"/><line x1="306" y1="51.31" x2="310" y2="51.31"/><line x1="636" y1="51.31" x2="632" y2="51.31"/><line x1="306" y1="30.99" x2="314.5" y2="30.99"/><line x1="636" y1="30.99" x2="627.5" y2="30.99"/></g>
<text transform="translate(295,279.40) scale(1,1.1)" font-size="15.5" font-weight="bold" fill="#000" text-anchor="end">0.0</text>
<text transform="translate(295,238.77) scale(1,1.1)" font-size="15.5" font-weight="bold" fill="#000" text-anchor="end">0.5</text>
<text transform="translate(295,198.13) scale(1,1.1)" font-size="15.5" font-weight="bold" fill="#000" text-anchor="end">1.0</text>
<text transform="translate(295,157.50) scale(1,1.1)" font-size="15.5" font-weight="bold" fill="#000" text-anchor="end">1.5</text>
<text transform="translate(295,116.86) scale(1,1.1)" font-size="15.5" font-weight="bold" fill="#000" text-anchor="end">2.0</text>
<text transform="translate(295,76.23) scale(1,1.1)" font-size="15.5" font-weight="bold" fill="#000" text-anchor="end">2.5</text>
<text transform="translate(295,35.59) scale(1,1.1)" font-size="15.5" font-weight="bold" fill="#000" text-anchor="end">3.0</text>
<text transform="translate(306.00,305.2) scale(1,1.1)" font-size="15.5" font-weight="bold" fill="#000" text-anchor="middle">1000</text>
<text transform="translate(343.50,305.2) scale(1,1.1)" font-size="15.5" font-weight="bold" fill="#000" text-anchor="middle">750</text>
<text transform="translate(381.00,305.2) scale(1,1.1)" font-size="15.5" font-weight="bold" fill="#000" text-anchor="middle">500</text>
<text transform="translate(418.50,305.2) scale(1,1.1)" font-size="15.5" font-weight="bold" fill="#000" text-anchor="middle">250</text>
<text transform="translate(456.00,305.2) scale(1,1.1)" font-size="15.5" font-weight="bold" fill="#000" text-anchor="middle">0</text>
<text transform="translate(493.50,305.2) scale(1,1.1)" font-size="15.5" font-weight="bold" fill="#000" text-anchor="middle">-250</text>
<text transform="translate(531.00,305.2) scale(1,1.1)" font-size="15.5" font-weight="bold" fill="#000" text-anchor="middle">-500</text>
<text transform="translate(568.50,305.2) scale(1,1.1)" font-size="15.5" font-weight="bold" fill="#000" text-anchor="middle">-750</text>
<text transform="translate(606.00,305.2) scale(1,1.1)" font-size="15.5" font-weight="bold" fill="#000" text-anchor="middle">-1000</text>
<text x="464.6" y="335.5" font-size="17.6" font-weight="bold" fill="#000" text-anchor="middle">Distance (µm)</text>
<text transform="translate(261.3,147.6) rotate(-90)" font-size="17.9" font-weight="bold" fill="#000" text-anchor="middle">Water thickness (mm)</text>
<text x="322.5" y="168.8" font-size="17.5" font-weight="bold" fill="#ff0000">Anode</text>
<text x="551.8" y="168.8" font-size="17.5" font-weight="bold" fill="#0000ff">Cathode</text>
<line x1="494.3" y1="54.9" x2="530.5" y2="54.9" stroke="#000000" stroke-width="2.1"/>
<text x="534.6" y="60.5" font-size="15.6" fill="#000">0 mA/cm<tspan font-size="10.8" dy="-6.6" dx="-0.3">2</tspan></text>
<line x1="494.3" y1="74.5" x2="530.5" y2="74.5" stroke="#2f5fa8" stroke-width="2.1"/>
<text x="534.6" y="80.1" font-size="15.6" fill="#000">5 mA/cm<tspan font-size="10.8" dy="-6.6" dx="-0.3">2</tspan></text>
<line x1="494.3" y1="93.7" x2="530.5" y2="93.7" stroke="#34b265" stroke-width="2.1"/>
<text x="534.6" y="99.3" font-size="15.6" fill="#000">10 mA/cm<tspan font-size="10.8" dy="-6.6" dx="-0.3">2</tspan></text>
<line x1="494.3" y1="113.3" x2="530.5" y2="113.3" stroke="#ffbb00" stroke-width="2.1"/>
<text x="534.6" y="118.9" font-size="15.6" fill="#000">100 mA/cm<tspan font-size="10.8" dy="-6.6" dx="-0.3">2</tspan></text>
<line x1="494.3" y1="132.8" x2="530.5" y2="132.8" stroke="#ff0a0a" stroke-width="2.1"/>
<text x="534.6" y="138.4" font-size="15.6" fill="#000">1000 mA/cm<tspan font-size="10.8" dy="-6.6" dx="-0.3">2</tspan></text>
</svg></body></html>
